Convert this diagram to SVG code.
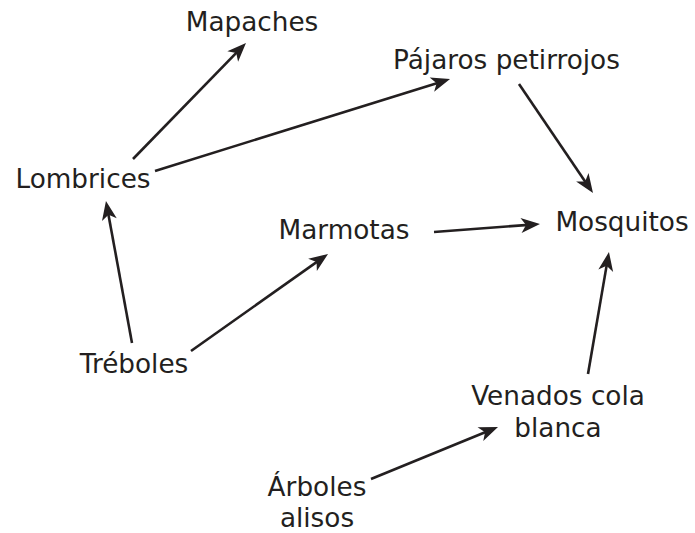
<svg xmlns="http://www.w3.org/2000/svg" width="695" height="533" viewBox="0 0 695 533">
<style>
text{font-family:"DejaVu Sans","Verdana",sans-serif;font-size:26.3px;fill:#231f20;text-anchor:middle}
.c line{stroke:#231f20;stroke-width:2.6;fill:none;marker-end:url(#ah)}
</style>
<defs>
<marker id="ah" markerUnits="userSpaceOnUse" markerWidth="30" markerHeight="30" viewBox="-15 -15 30 30" refX="0" refY="0" orient="auto">
<path d="M8,0 L-11,-7.5 L-6,0 L-11,7.5 Z" fill="#231f20"/>
</marker>
</defs>
<rect width="695" height="533" fill="#fff"/>
<g class="c" id="connectors">
<line x1="133" y1="159" x2="240.4" y2="48.7"/>
<line x1="155" y1="171" x2="442.4" y2="81.4"/>
<line x1="519" y1="84" x2="588.5" y2="186.4"/>
<line x1="434" y1="232" x2="532" y2="224.6"/>
<line x1="132" y1="343" x2="107.4" y2="208.9"/>
<line x1="191" y1="351" x2="321.5" y2="258.6"/>
<line x1="588" y1="374" x2="607.6" y2="259.9"/>
<line x1="371" y1="479" x2="490.6" y2="430"/>
</g>
<g id="mapaches"><text x="252" y="31">Mapaches</text></g>
<g id="pajaros"><text x="506.5" y="69">Pájaros petirrojos</text></g>
<g id="lombrices"><text x="83" y="188">Lombrices</text></g>
<g id="marmotas"><text x="344" y="239">Marmotas</text></g>
<g id="mosquitos"><text x="622" y="231">Mosquitos</text></g>
<g id="treboles"><text x="134" y="373">Tréboles</text></g>
<g id="venados"><text x="558" y="405">Venados cola</text><text x="558" y="437">blanca</text></g>
<g id="arboles"><text x="317" y="496">Árboles</text><text x="317" y="527">alisos</text></g>
</svg>
